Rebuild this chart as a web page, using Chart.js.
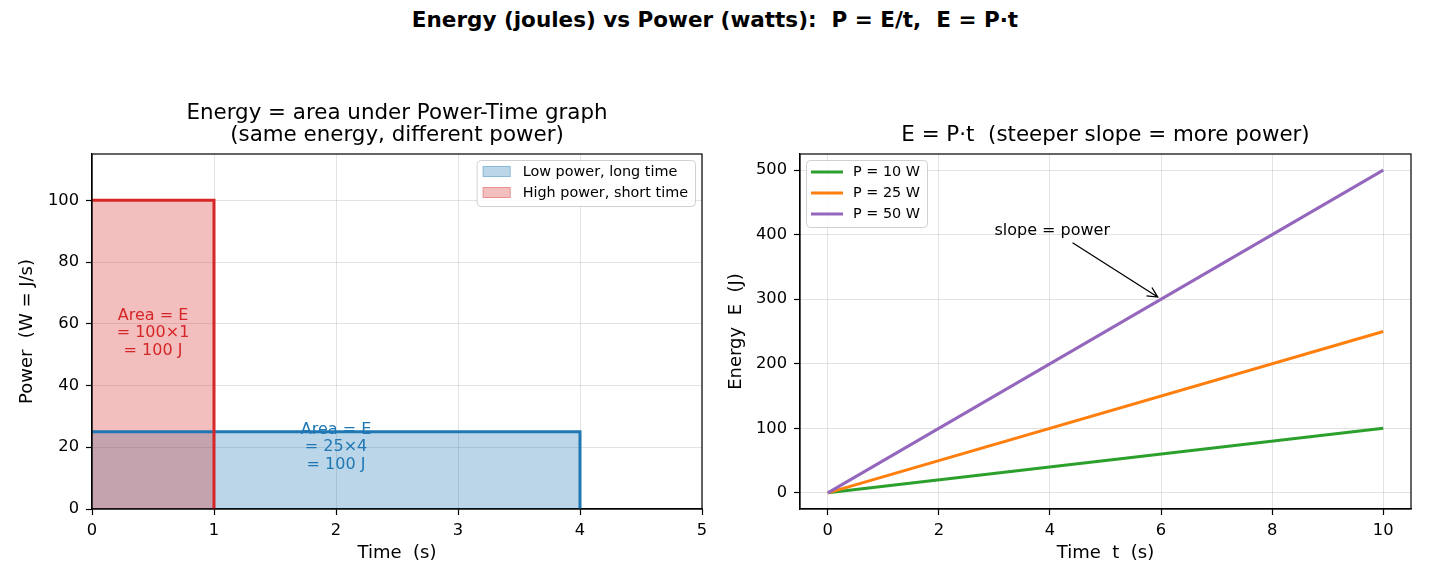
<!DOCTYPE html>
<html>
<head>
<meta charset="utf-8">
<script src="https://cdn.jsdelivr.net/npm/chart.js@4.4.0/dist/chart.umd.min.js"></script>
<style>
body{margin:0;background:#fff;width:1430px;height:585px;position:relative;overflow:hidden;font-family:'DejaVu Sans',sans-serif}
#sup{position:absolute;left:0;top:8px;width:1430px;text-align:center;font-weight:bold;font-size:21.5px;line-height:24px;white-space:pre;color:#000}
.box{position:absolute;top:0;width:715px;height:585px}
</style>
</head>
<body>
<div id="sup">Energy (joules) vs Power (watts):  P = E/t,  E = P·t</div>
<div class="box" style="left:0"><canvas id="leftChart" width="715" height="585"></canvas></div>
<div class="box" style="left:715px"><canvas id="rightChart" width="715" height="585"></canvas></div>
<script>
var FONT = "'DejaVu Sans', sans-serif";

// left panel: power vs time rectangles
var timeLow = [0, 4, 4];
var powerLow = [25, 25, 0];
var timeHigh = [0, 1, 1];
var powerHigh = [100, 100, 0];
var leftXTicks = [0, 1, 2, 3, 4, 5];
var leftYTicks = [0, 20, 40, 60, 80, 100];
var highNote = ['Area = E', '= 100×1', '= 100 J'];
var lowNote = ['Area = E', '= 25×4', '= 100 J'];

// right panel: energy vs time lines
var times = [0, 10];
var energy10 = [0, 100];
var energy25 = [0, 250];
var energy50 = [0, 500];
var rightXTicks = [0, 2, 4, 6, 8, 10];
var rightYTicks = [0, 100, 200, 300, 400, 500];

function pts(xs, ys){
  return xs.map(function(x, i){ return {x: x, y: ys[i]}; });
}

function axis(min, max, ticks, title, size, isX, titlePad, tickPad){
  return {
    type: 'linear', min: min, max: max,
    afterBuildTicks: function(s){ s.ticks = ticks.map(function(v){ return {value: v}; }); },
    afterFit: function(s){ if (isX) s.height = size; else s.width = size; },
    grid: {color: 'rgba(176,176,176,0.35)', lineWidth: 1, tickColor: '#000', tickLength: 6, tickWidth: 1.2},
    border: {display: true, color: '#000', width: 1.2},
    ticks: {color: '#000', font: {family: FONT, size: 16.3}, padding: tickPad, maxRotation: 0, autoSkip: false},
    title: {display: true, text: title, color: '#000', font: {family: FONT, size: 18}, padding: titlePad}
  };
}

var framePlugin = {
  id: 'frame',
  afterDraw: function(chart){
    var a = chart.chartArea, c = chart.ctx;
    c.save();
    c.strokeStyle = '#000';
    c.lineWidth = 1.2;
    c.strokeRect(a.left, a.top, a.right - a.left, a.bottom - a.top);
    c.restore();
  }
};

function titlePlugin(lines){
  return {
    id: 'ptitle',
    afterDraw: function(chart){
      var a = chart.chartArea, c = chart.ctx;
      c.save();
      c.fillStyle = '#000';
      c.font = '21.4px ' + FONT;
      c.textAlign = 'center';
      c.textBaseline = 'middle';
      var cx = (a.left + a.right) / 2;
      for (var i = 0; i < lines.length; i++) {
        c.fillText(lines[i], cx, a.top - 19 - (lines.length - 1 - i) * 22);
      }
      c.restore();
    }
  };
}

function legendPlugin(side, patch){
  return {
    id: 'boxlegend',
    afterDraw: function(chart){
      var a = chart.chartArea, c = chart.ctx;
      var ds = chart.data.datasets;
      c.save();
      c.font = '14.4px ' + FONT;
      var tw = 0;
      ds.forEach(function(d){ tw = Math.max(tw, c.measureText(d.label).width); });
      var inset = patch ? 46 : 47;
      var w = inset + tw + 7;
      var h = ds.length * 21 + 4;
      var x = side === 'right' ? a.right - 7 - w : a.left + 6;
      var y = a.top + 6;
      c.fillStyle = 'rgba(255,255,255,0.85)';
      c.strokeStyle = '#d0d0d0';
      c.lineWidth = 1;
      c.beginPath();
      c.roundRect(x + 0.5, y + 0.5, w, h, 4);
      c.fill();
      c.stroke();
      c.textBaseline = 'middle';
      ds.forEach(function(d, i){
        var ry = y + 12 + i * 21;
        if (patch) {
          c.fillStyle = d.backgroundColor;
          c.fillRect(x + 6, ry - 6, 28, 11);
          c.strokeStyle = d.backgroundColor;
          c.strokeRect(x + 6.5, ry - 5.5, 27, 10);
        } else {
          c.strokeStyle = d.borderColor;
          c.lineWidth = 3;
          c.beginPath();
          c.moveTo(x + 5, ry);
          c.lineTo(x + 37, ry);
          c.stroke();
        }
        c.fillStyle = '#000';
        c.fillText(d.label, x + inset, ry);
      });
      c.restore();
    }
  };
}

var notePlugin = {
  id: 'notes',
  afterDatasetsDraw: function(chart){
    var xs = chart.scales.x, ys = chart.scales.y, c = chart.ctx;
    function block(lines, x, y, color){
      c.fillStyle = color;
      var px = xs.getPixelForValue(x), py = ys.getPixelForValue(y);
      for (var i = 0; i < lines.length; i++) {
        c.fillText(lines[i], px, py + (i - (lines.length - 1) / 2) * 17.5);
      }
    }
    c.save();
    c.font = '16px ' + FONT;
    c.textAlign = 'center';
    c.textBaseline = 'middle';
    block(highNote, 0.5, 57, '#d62728');
    block(lowNote, 2, 20, '#1f77b4');
    c.restore();
  }
};

var arrowPlugin = {
  id: 'arrow',
  afterDatasetsDraw: function(chart){
    var xs = chart.scales.x, ys = chart.scales.y, c = chart.ctx;
    var label = 'slope = power';
    c.save();
    c.font = '16px ' + FONT;
    c.fillStyle = '#000';
    c.textBaseline = 'alphabetic';
    var tx = xs.getPixelForValue(3), ty = ys.getPixelForValue(400);
    c.fillText(label, tx, ty);
    var tw = c.measureText(label).width;
    var cx = tx + tw / 2, cy = ty - 5;
    var hx = xs.getPixelForValue(6), hy = ys.getPixelForValue(300);
    var dx = hx - cx, dy = hy - cy, len = Math.sqrt(dx * dx + dy * dy);
    var t = Math.min((tw / 2 + 4) / Math.abs(dx), 13 / Math.abs(dy));
    var sx = cx + dx * t, sy = cy + dy * t;
    var ux = dx / len, uy = dy / len;
    var ex = hx - ux * 4, ey = hy - uy * 4;
    c.strokeStyle = '#000';
    c.lineWidth = 1.3;
    c.beginPath();
    c.moveTo(sx, sy);
    c.lineTo(ex, ey);
    c.moveTo(ex - ux * 10 - uy * 5, ey - uy * 10 + ux * 5);
    c.lineTo(ex, ey);
    c.lineTo(ex - ux * 10 + uy * 5, ey - uy * 10 - ux * 5);
    c.stroke();
    c.restore();
  }
};

var common = {
  responsive: false,
  animation: false,
  devicePixelRatio: 1,
  plugins: {legend: {display: false}, tooltip: {enabled: false}, title: {display: false}, filler: {drawTime: 'beforeDatasetsDraw'}},
  elements: {point: {radius: 0}, line: {tension: 0}}
};

new Chart(document.getElementById('leftChart').getContext('2d'), {
  type: 'line',
  data: {
    datasets: [{
      label: 'Low power, long time',
      data: pts(timeLow, powerLow),
      borderColor: '#1f77b4',
      backgroundColor: 'rgba(31,119,180,0.3)',
      borderWidth: 3,
      fill: 'origin',
      order: 2
    }, {
      label: 'High power, short time',
      data: pts(timeHigh, powerHigh),
      borderColor: '#d62728',
      backgroundColor: 'rgba(214,39,40,0.3)',
      borderWidth: 3,
      fill: 'origin',
      order: 1
    }]
  },
  options: Object.assign({}, common, {
    layout: {padding: {left: 10, right: 13, top: 154, bottom: 16}},
    scales: {
      x: axis(0, 5, leftXTicks, 'Time  (s)', 60, true, {top: 4, bottom: 5}, 6),
      y: axis(0, 115, leftYTicks, 'Power  (W = J/s)', 82, false, {top: 7, bottom: 4}, 7)
    }
  }),
  plugins: [framePlugin, titlePlugin(['Energy = area under Power-Time graph', '(same energy, different power)']), legendPlugin('right', true), notePlugin]
});

new Chart(document.getElementById('rightChart').getContext('2d'), {
  type: 'line',
  data: {
    datasets: [{
      label: 'P = 10 W', data: pts(times, energy10), borderColor: '#2ca02c', borderWidth: 3, fill: false, order: 3
    }, {
      label: 'P = 25 W', data: pts(times, energy25), borderColor: '#ff7f0e', borderWidth: 3, fill: false, order: 2
    }, {
      label: 'P = 50 W', data: pts(times, energy50), borderColor: '#9467bd', borderWidth: 3, fill: false, order: 1
    }]
  },
  options: Object.assign({}, common, {
    layout: {padding: {left: 10, right: 19, top: 154, bottom: 16}},
    scales: {
      x: axis(-0.5, 10.5, rightXTicks, 'Time  t  (s)', 60, true, {top: 4, bottom: 5}, 6),
      y: axis(-25, 525, rightYTicks, 'Energy  E  (J)', 75, false, {top: 1, bottom: 4}, 7)
    }
  }),
  plugins: [framePlugin, titlePlugin(['E = P·t  (steeper slope = more power)']), legendPlugin('left', false), arrowPlugin]
});
</script>
</body>
</html>
